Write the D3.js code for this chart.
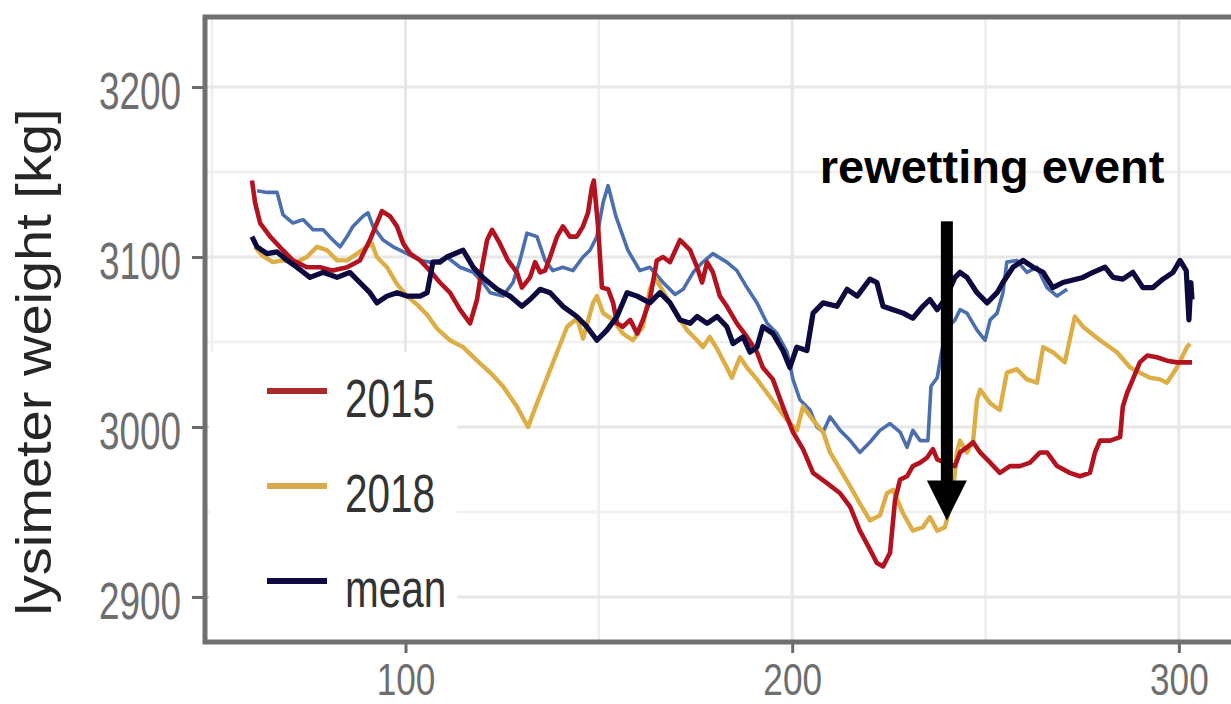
<!DOCTYPE html>
<html>
<head>
<meta charset="utf-8">
<script src="https://cdn.jsdelivr.net/npm/d3@7"></script>
<style>
  html, body { margin: 0; padding: 0; background: #fff; overflow: hidden; }
  svg { display: block; font-family: Arial, "Liberation Sans", Helvetica, sans-serif; }
</style>
</head>
<body>
<div id="chart"></div>
<script>
// Lysimeter weight over day of year: 2015, 2018, the mean and a fourth (unlabelled) year.
// Values, [day, kg].

const xTicks = [100, 200, 300];
const xMinor = [50, 150, 250];
const yTicks = [2900, 3000, 3100, 3200];
const yMinor = [2950, 3050, 3150];

const legendLabels = ['2015', '2018', 'mean'];

const s2015 = [[60.3,3145],[61.1,3132],[62.4,3120],[65.0,3112],[68.3,3104],[70.9,3098],[74.5,3094],[77.9,3094],[81.2,3092],[84.9,3094],[88.2,3098],[90.8,3110],[92.6,3120],[93.9,3127],[96.0,3124],[97.8,3118],[99.4,3108],[101.2,3102],[103.8,3098],[106.3,3092],[108.9,3085],[111.5,3079],[114.1,3069],[116.7,3061],[118.5,3075],[119.8,3094],[121.1,3110],[122.4,3116],[124.4,3108],[126.5,3098],[128.8,3091],[130.1,3082],[132.2,3088],[133.5,3097],[134.8,3091],[136.1,3092],[137.4,3100],[139.2,3112],[140.7,3118],[142.5,3112],[144.3,3112],[145.9,3118],[147.2,3126],[148.2,3141],[148.7,3145],[149.8,3118],[150.8,3082],[152.4,3081],[153.7,3073],[154.7,3061],[156.2,3059],[158.1,3063],[159.9,3055],[161.4,3063],[163.2,3075],[165.0,3098],[166.6,3100],[168.4,3097],[171.0,3110],[173.6,3104],[175.4,3094],[176.7,3085],[178.0,3097],[179.5,3091],[181.3,3077],[183.1,3071],[185.7,3061],[188.3,3053],[190.9,3044],[192.4,3035],[195.0,3028],[197.6,3012],[200.2,2997],[202.8,2987],[205.4,2973],[209.0,2967],[212.4,2961],[215.0,2953],[217.5,2939],[220.1,2928],[221.9,2920],[223.5,2918],[225.3,2926],[226.6,2957],[227.9,2969],[229.7,2971],[231.2,2977],[233.1,2979],[234.9,2982],[236.4,2987],[237.5,2981],[239.5,2979],[242.1,2977],[243.4,2985],[245.2,2988],[246.8,2991],[248.6,2985],[251.2,2979],[253.7,2973],[256.3,2977],[258.9,2977],[261.5,2979],[264.1,2985],[265.9,2985],[268.5,2977],[271.8,2973],[274.4,2971],[277.0,2973],[278.3,2985],[279.6,2992],[282.2,2992],[284.8,2994],[285.5,3012],[286.6,3020],[288.1,3028],[289.9,3038],[291.8,3042],[294.3,3041],[296.9,3039],[299.5,3038],[303.4,3038]];

const s2018 = [[61.1,3106],[62.9,3101],[65.7,3097],[68.3,3098],[71.9,3097],[74.5,3100],[77.1,3106],[79.7,3104],[82.3,3098],[84.9,3098],[87.5,3102],[90.0,3106],[91.3,3108],[92.6,3100],[95.2,3094],[97.8,3084],[100.4,3077],[103.0,3072],[105.6,3066],[108.1,3058],[111.5,3051],[114.9,3047],[118.5,3039],[121.9,3032],[125.2,3024],[128.8,3012],[131.7,3000],[134.0,3014],[136.6,3029],[139.2,3044],[141.8,3059],[144.4,3064],[145.9,3052],[148.5,3073],[149.5,3077],[151.1,3067],[153.7,3063],[156.2,3055],[158.8,3051],[161.4,3059],[163.2,3081],[164.5,3088],[167.1,3078],[168.9,3071],[171.0,3063],[172.8,3057],[175.4,3051],[176.9,3047],[178.7,3053],[180.8,3045],[183.1,3035],[184.4,3029],[186.5,3041],[188.3,3035],[190.9,3028],[193.5,3020],[196.1,3012],[198.7,3004],[201.2,2998],[202.8,3012],[205.4,3004],[208.0,2997],[209.8,2985],[212.4,2975],[215.0,2965],[217.5,2955],[220.1,2945],[222.7,2948],[224.5,2961],[226.1,2963],[228.7,2949],[231.2,2939],[233.8,2941],[235.6,2947],[237.5,2939],[239.5,2941],[241.3,2957],[242.6,2985],[243.4,2992],[245.2,2985],[246.8,2992],[247.8,3016],[248.6,3022],[251.2,3014],[253.7,3010],[255.5,3032],[258.1,3034],[260.7,3028],[263.3,3026],[264.9,3047],[267.4,3044],[270.5,3038],[273.1,3065],[275.2,3059],[279.6,3051],[284.0,3044],[287.4,3035],[289.9,3032],[292.5,3029],[295.1,3028],[296.9,3026],[299.5,3035],[302.1,3047],[302.9,3049]];

const sMean = [[60.3,3112],[61.6,3106],[64.2,3102],[66.8,3103],[69.4,3098],[71.9,3094],[75.3,3088],[78.7,3091],[82.3,3088],[85.6,3091],[88.2,3085],[90.8,3079],[92.6,3073],[95.2,3077],[97.8,3079],[100.4,3077],[103.8,3077],[105.6,3079],[107.1,3097],[108.9,3097],[110.7,3100],[114.9,3104],[117.5,3094],[120.0,3088],[123.7,3081],[127.0,3077],[130.1,3071],[132.2,3075],[134.8,3081],[137.4,3079],[140.7,3071],[144.3,3065],[146.9,3059],[149.5,3051],[152.1,3057],[154.7,3065],[157.3,3079],[159.9,3077],[163.2,3073],[165.8,3079],[168.4,3073],[171.0,3063],[173.6,3061],[175.4,3065],[178.0,3061],[180.6,3065],[183.1,3059],[184.7,3049],[187.3,3053],[189.1,3044],[190.9,3047],[192.4,3059],[195.0,3055],[197.6,3045],[199.4,3035],[201.2,3047],[203.8,3045],[205.4,3067],[208.0,3073],[211.6,3071],[214.2,3081],[216.8,3077],[220.1,3087],[221.9,3085],[223.5,3071],[226.1,3069],[228.7,3067],[231.2,3064],[233.8,3071],[235.6,3075],[237.5,3069],[239.5,3075],[242.1,3088],[243.4,3091],[245.2,3088],[247.8,3079],[250.4,3073],[253.0,3079],[254.5,3085],[257.1,3094],[259.7,3098],[262.3,3094],[264.9,3091],[267.4,3082],[270.0,3085],[275.2,3088],[277.8,3091],[280.9,3094],[283.0,3088],[285.5,3087],[288.1,3091],[290.7,3082],[293.3,3082],[295.9,3087],[298.5,3091],[300.3,3098],[301.9,3092],[302.6,3063],[303.1,3085],[303.4,3075]];

const sOther = [[61.6,3139],[64.2,3138],[66.8,3138],[68.3,3125],[70.9,3120],[73.5,3122],[76.1,3116],[78.7,3116],[81.2,3110],[83.1,3106],[84.9,3112],[86.4,3118],[89.0,3124],[90.3,3126],[91.6,3118],[94.2,3110],[96.8,3106],[100.4,3102],[103.8,3098],[106.3,3097],[108.9,3098],[110.7,3100],[114.1,3094],[117.5,3091],[120.0,3085],[121.9,3079],[125.2,3077],[127.8,3085],[129.6,3098],[131.4,3114],[134.0,3112],[136.1,3098],[138.1,3092],[140.7,3094],[143.3,3092],[145.9,3100],[147.7,3104],[149.5,3112],[151.1,3132],[152.4,3142],[154.4,3124],[157.5,3104],[160.6,3092],[163.2,3094],[166.6,3085],[169.7,3078],[171.8,3081],[174.4,3091],[176.9,3097],[179.5,3102],[183.1,3097],[185.7,3092],[188.3,3082],[190.9,3073],[193.5,3061],[196.1,3055],[198.7,3044],[200.2,3028],[202.0,3016],[204.6,3010],[206.4,3000],[208.0,2997],[209.8,3006],[212.4,2998],[215.0,2992],[217.5,2985],[220.1,2991],[222.7,2998],[225.3,3002],[227.9,2997],[229.7,2988],[231.2,2998],[233.1,2992],[235.1,2992],[235.9,3024],[237.5,3029],[238.7,3045],[240.8,3060],[242.1,3063],[243.4,3069],[245.2,3067],[247.8,3057],[249.9,3051],[251.2,3063],[253.0,3067],[254.5,3079],[255.5,3097],[258.1,3098],[260.7,3091],[263.3,3094],[265.9,3082],[268.5,3077],[271.1,3081]];

// rewetting annotation: arrow day and kg range, text anchor
const arrowDay = 240;
const arrowKg = [3121, 2945];
const noteText = 'rewetting event';
const noteAt = [251.7, 3143.5];

const width = 1231, height = 704;
const margin = { top: 17, left: 205, bottom: 62 };
const W = 1040;                        // panel runs past the right edge, as in the crop
const H = height - margin.top - margin.bottom;

const x = d3.scaleLinear().domain([48.15, 317.1]).range([0, W]);
const y = d3.scaleLinear().domain([2873.5, 3241.2]).range([H, 0]);

const series = [
  { key: 'other', data: sOther, color: '#4b6fae', width: 3.6 },
  { key: '2018',  data: s2018,  color: '#dcae45', width: 4.4 },
  { key: '2015',  data: s2015,  color: '#b3121f', width: 4.6 },
  { key: 'mean',  data: sMean,  color: '#0c0a3e', width: 5.2 }
];
const legendColors = ['#a82a2a', '#d9aa4c', '#0c0a3e'];

const svg = d3.select('#chart').append('svg')
  .attr('width', width).attr('height', height);

svg.append('defs').append('clipPath').attr('id', 'panel')
  .append('rect').attr('width', W).attr('height', H);

const g = svg.append('g').attr('transform', `translate(${margin.left},${margin.top})`);

// grid
g.selectAll('.vminor').data(xMinor).join('line')
  .attr('x1', d => x(d)).attr('x2', d => x(d)).attr('y1', 0).attr('y2', H)
  .attr('stroke', '#efefef').attr('stroke-width', 2.5);
g.selectAll('.hminor').data(yMinor).join('line')
  .attr('y1', d => y(d)).attr('y2', d => y(d)).attr('x1', 0).attr('x2', W)
  .attr('stroke', '#efefef').attr('stroke-width', 2.5);
g.selectAll('.vmajor').data(xTicks).join('line')
  .attr('x1', d => x(d)).attr('x2', d => x(d)).attr('y1', 0).attr('y2', H)
  .attr('stroke', '#e7e7e7').attr('stroke-width', 3);
g.selectAll('.hmajor').data(yTicks).join('line')
  .attr('y1', d => y(d)).attr('y2', d => y(d)).attr('x1', 0).attr('x2', W)
  .attr('stroke', '#e7e7e7').attr('stroke-width', 3);

// legend box sits over the grid in the lower left corner
g.append('rect').attr('x', 5).attr('y', 335).attr('width', 247).attr('height', H - 335)
  .attr('fill', '#fff');

const line = d3.line().x(d => x(d[0])).y(d => y(d[1]));
g.append('g').attr('clip-path', 'url(#panel)')
  .selectAll('path').data(series).join('path')
  .attr('d', d => line(d.data))
  .attr('fill', 'none')
  .attr('stroke', d => d.color)
  .attr('stroke-width', d => d.width)
  .attr('stroke-linejoin', 'round');

// axes
const yAxis = g.append('g')
  .call(d3.axisLeft(y).tickValues(yTicks).tickSize(13).tickFormat(d3.format('d')));
yAxis.select('.domain').remove();
yAxis.selectAll('line').attr('stroke', '#6b6b6b').attr('stroke-width', 3);
yAxis.selectAll('text')
  .attr('x', -24 / 0.71).attr('dy', '0.42em')
  .attr('transform', 'scale(0.71,1)')
  .attr('font-size', 52).attr('fill', '#6e6e6e');

const xAxis = g.append('g').attr('transform', `translate(0,${H})`)
  .call(d3.axisBottom(x).tickValues(xTicks).tickSize(11).tickFormat(d3.format('d')));
xAxis.select('.domain').remove();
xAxis.selectAll('line').attr('stroke', '#6b6b6b').attr('stroke-width', 3);
xAxis.selectAll('text')
  .attr('y', 53).attr('dy', 0)
  .attr('transform', 'scale(0.8,1)')
  .attr('font-size', 44).attr('fill', '#6e6e6e');

// panel border (top, left, bottom; right side is cut off)
const border = g.append('g').attr('stroke', '#707070').attr('stroke-width', 5).attr('fill', 'none');
border.append('path').attr('d', `M${W},0H0V${H}H${W}`);

// legend
const leg = g.selectAll('.leg').data(legendLabels).join('g')
  .attr('transform', (d, i) => `translate(62,${374 + i * 95})`);
leg.append('line').attr('x1', 0).attr('x2', 60)
  .attr('stroke', (d, i) => legendColors[i]).attr('stroke-width', 6);
leg.append('text').attr('x', 78 / 0.75).attr('y', 26)
  .attr('transform', 'scale(0.75,1)')
  .attr('font-size', 54).attr('fill', '#333')
  .text(d => d);

// y axis title
svg.append('text')
  .attr('transform', 'translate(51,362) scale(0.9,1) rotate(-90)')
  .attr('text-anchor', 'middle')
  .attr('font-size', 56).attr('fill', '#262626')
  .text('lysimeter weight [kg]');

// rewetting annotation
const ax = x(arrowDay), ay0 = y(arrowKg[0]), ay1 = y(arrowKg[1]);
g.append('rect').attr('x', ax - 6).attr('y', ay0).attr('width', 12).attr('height', ay1 - 38 - ay0)
  .attr('fill', '#000');
g.append('path').attr('d', `M${ax - 20},${ay1 - 40}L${ax + 20},${ay1 - 40}L${ax},${ay1}Z`)
  .attr('fill', '#000');
g.append('text').attr('x', x(noteAt[0])).attr('y', y(noteAt[1]))
  .attr('text-anchor', 'middle')
  .attr('font-size', 47).attr('font-weight', 700).attr('fill', '#000')
  .text(noteText);
</script>
</body>
</html>
